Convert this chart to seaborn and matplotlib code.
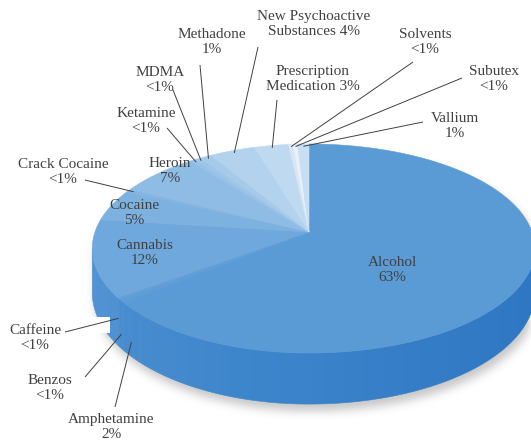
import numpy as np
import matplotlib
matplotlib.use("Agg")
import matplotlib.pyplot as plt
from matplotlib.patches import Polygon, Rectangle, PathPatch
from matplotlib.path import Path
from matplotlib.colors import to_rgb
import seaborn as sns

# ---- data -------------------------------------------------------------
categories = ["Alcohol", "Amphetamine", "Benzos", "Caffeine", "Cannabis",
              "Cocaine", "Crack Cocaine", "Heroin", "Ketamine", "MDMA",
              "Methadone", "New Psychoactive\nSubstances", "Prescription\nMedication",
              "Solvents", "Subutex", "Vallium"]
shares = [63, 2, 0.5, 0.3, 12, 5, 0.5, 7, 0.5, 0.5, 1, 4, 3, 0.4, 0.4, 1]

# ---- styling ----------------------------------------------------------
top_colors = ["#5B9BD5", "#5A9AD6", "#5E9DD7", "#63A0D8", "#6FA8DC",
              "#7DB1E0", "#84B5E1", "#8EBCE4", "#98C2E7", "#9EC6E8",
              "#A6CBEA", "#B2D2ED", "#BFDAF0", "#D6E6F5", "#E8F1F9", "#C8DEF2"]
side_tint = "#2A78C6"
text_color = "#404040"

# label block centres, leader-line starts and how far down the rim each
# front leader attaches (pixel layout)
label_pos = [(392, 270), (111, 427), (50, 388), (35, 338), (145, 253),
             (134, 213), (63, 172), (170, 171), (146, 121), (160, 80),
             (212, 42), (314, 24), (313, 79), (425, 42), (494, 79), (455, 126)]
leader_from = [None, (115, 407), (85, 377), (65, 332), None, None, (85, 180),
               None, (167, 128), (173, 90), (200, 65), (258, 47), (277, 100),
               (413, 62), (462, 78), (423, 122)]
leader_drop = [0, 0.7, 0.7, 0.42, 0, 0, 0, 0, 0, 0, 0, 0, 0, 0, 0, 0]

sns.set_theme(style="white")
plt.rcParams["font.family"] = ["Liberation Serif", "DejaVu Serif"]

W, H = 531, 445
fig = plt.figure(figsize=(W / 100, H / 100), dpi=100)
ax = fig.add_axes([0, 0, 1, 1])
ax.set_xlim(0, W)
ax.set_ylim(H, 0)
ax.axis("off")

# perspective projection of the pie disc (viewed slightly from the left,
# so the right half spreads a little wider)
CX, CY, B, K, DEPTH = 309.0, 232.0, 101.9, 0.158, 43.0
A_LEFT, A_RIGHT = 214.0, 223.0


def proj(theta, r=1.0, drop=0.0):
    t = np.radians(theta)
    u = r * np.sin(t)
    v = -r * np.cos(t)
    w = 1.0 / (1.0 - K * v)
    a = np.where(u >= 0, A_RIGHT, A_LEFT)
    return CX + a * u * w, CY + B * v * w + drop * w


total = float(np.sum(shares))
spans = np.array(shares) / total * 360.0
starts = np.concatenate([[0.0], np.cumsum(spans)[:-1]])
ends = starts + spans

palette = sns.color_palette(top_colors)


def side_color(c):
    base = 0.4 * np.array(to_rgb(c)) + 0.6 * np.array(to_rgb(side_tint))
    return tuple(np.clip(base, 0, 1))


edge = np.degrees(np.arccos(-K))  # widest point of the projected disc

# soft drop shadow under the whole pie
back = np.linspace(-edge, edge, 200)
front = np.linspace(edge, 360 - edge, 200)
sx, sy = proj(back)
bx, by = proj(front, drop=DEPTH)
outline = np.column_stack([np.concatenate([sx, bx]), np.concatenate([sy, by])])
shadow_path = Path(outline + np.array([3.0, 7.0]))
gx, gy = np.meshgrid(np.arange(W) + 0.5, np.arange(H) + 0.5)
mask = shadow_path.contains_points(np.column_stack([gx.ravel(), gy.ravel()]))
mask = mask.reshape(H, W).astype(float)


def _box(a, r, axis):
    pad = [(0, 0)] * a.ndim
    pad[axis] = (r + 1, r)
    c = np.cumsum(np.pad(a, pad, mode="constant"), axis=axis)
    n = a.shape[axis]
    hi = np.take(c, np.arange(2 * r + 1, 2 * r + 1 + n), axis=axis)
    lo = np.take(c, np.arange(0, n), axis=axis)
    return (hi - lo) / (2 * r + 1)


for _ in range(3):
    mask = _box(_box(mask, 4, 0), 4, 1)
rgba = np.zeros((H, W, 4))
rgba[..., :3] = 0.45
rgba[..., 3] = mask * 0.4
ax.imshow(rgba, extent=(0, W, H, 0), origin="upper", zorder=0, interpolation="bilinear")

# outer side walls (only the front part is visible)
for s, e, col in zip(starts, ends, palette):
    a0, a1 = max(s, edge), min(e, 360 - edge)
    if a1 <= a0:
        continue
    th = np.linspace(a0, a1, max(3, int((a1 - a0) / 0.5) + 2))
    tx, ty = proj(th)
    dx, dy = proj(th[::-1], drop=DEPTH)
    pts = np.column_stack([np.concatenate([tx, dx]), np.concatenate([ty, dy])])
    c = side_color(col)
    ax.add_patch(Polygon(pts, closed=True, facecolor=c, edgecolor=c, lw=0.4, zorder=1))

# left-to-right shading across the side wall
th = np.linspace(edge, 360 - edge, 300)
tx, ty = proj(th)
dx, dy = proj(th[::-1], drop=DEPTH)
wall = Path(np.column_stack([np.concatenate([tx, dx]), np.concatenate([ty, dy])]))
xl, xr = tx.min(), tx.max()
tcol = np.clip((np.arange(W) + 0.5 - xl) / (xr - xl), 0, 1)
grad = np.zeros((H, W, 4))
light = tcol < 0.35
grad[:, light, :3] = 1.0
grad[:, light, 3] = (0.35 - tcol[light]) / 0.35 * 0.07
grad[:, ~light, :3] = (0.08, 0.36, 0.70)
grad[:, ~light, 3] = (tcol[~light] - 0.35) / 0.65 * 0.35
im = ax.imshow(grad, extent=(0, W, H, 0), origin="upper", zorder=1.5,
               interpolation="bilinear")
im.set_clip_path(PathPatch(wall, transform=ax.transData))

# top faces
for s, e, col in zip(starts, ends, palette):
    th = np.linspace(s, e, max(3, int((e - s) / 0.5) + 2))
    x, y = proj(th)
    pts = np.column_stack([np.concatenate([[CX], x]), np.concatenate([[CY], y])])
    ax.add_patch(Polygon(pts, closed=True, facecolor=col, edgecolor=col, lw=0.4, zorder=2))

# white label background behind "Caffeine"
ax.add_patch(Rectangle((0, 317), 110, 16, facecolor="white", edgecolor="none", zorder=3))

# labels and leader lines
for name, val, s, e, pos, src, f in zip(categories, shares, starts, ends,
                                        label_pos, leader_from, leader_drop):
    pct = "<1%" if val < 1 else f"{round(val)}%"
    sep = " " if "\n" in name else "\n"
    ax.text(pos[0], pos[1], name + sep + pct, ha="center", va="center",
            multialignment="center", fontsize=11, color=text_color,
            linespacing=1.15, zorder=5)
    if src is not None:
        mid = 0.5 * (s + e)
        if edge < mid < 360 - edge:
            tx, ty = proj(mid, drop=DEPTH * f)
        else:
            tx, ty = proj(mid, r=0.97)
        ax.plot([src[0], tx], [src[1], ty], color=text_color, lw=0.7, zorder=4,
                solid_capstyle="butt")

fig.savefig("out.png", dpi=100)
